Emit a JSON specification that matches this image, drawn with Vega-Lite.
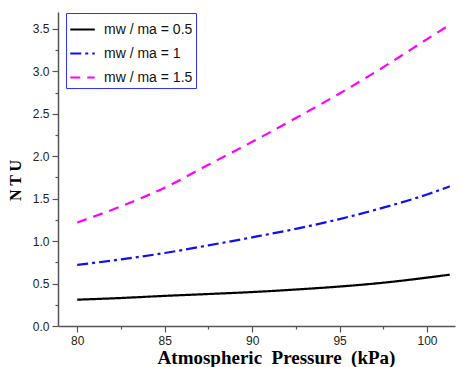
{
  "$schema": "https://vega.github.io/schema/vega-lite/v6.json",
  "width": 397,
  "height": 314,
  "autosize": "none",
  "padding": {"left": 58, "top": 12, "right": 5, "bottom": 41},
  "background": "white",
  "config": {"view": {"stroke": null}},
  "data": {"values": [
    {"p": 80, "ntu": 0.31, "s": "mw / ma = 0.5"},
    {"p": 82.5, "ntu": 0.33, "s": "mw / ma = 0.5"},
    {"p": 85, "ntu": 0.355, "s": "mw / ma = 0.5"},
    {"p": 87.5, "ntu": 0.377, "s": "mw / ma = 0.5"},
    {"p": 90, "ntu": 0.40, "s": "mw / ma = 0.5"},
    {"p": 92.5, "ntu": 0.43, "s": "mw / ma = 0.5"},
    {"p": 95, "ntu": 0.465, "s": "mw / ma = 0.5"},
    {"p": 97.5, "ntu": 0.51, "s": "mw / ma = 0.5"},
    {"p": 100, "ntu": 0.57, "s": "mw / ma = 0.5"},
    {"p": 101.3, "ntu": 0.605, "s": "mw / ma = 0.5"},
    {"p": 80, "ntu": 0.72, "s": "mw / ma = 1"},
    {"p": 82.5, "ntu": 0.785, "s": "mw / ma = 1"},
    {"p": 85, "ntu": 0.86, "s": "mw / ma = 1"},
    {"p": 87.5, "ntu": 0.95, "s": "mw / ma = 1"},
    {"p": 90, "ntu": 1.045, "s": "mw / ma = 1"},
    {"p": 92.5, "ntu": 1.145, "s": "mw / ma = 1"},
    {"p": 95, "ntu": 1.26, "s": "mw / ma = 1"},
    {"p": 97.5, "ntu": 1.395, "s": "mw / ma = 1"},
    {"p": 100, "ntu": 1.55, "s": "mw / ma = 1"},
    {"p": 101.3, "ntu": 1.645, "s": "mw / ma = 1"},
    {"p": 80, "ntu": 1.22, "s": "mw / ma = 1.5"},
    {"p": 82.5, "ntu": 1.41, "s": "mw / ma = 1.5"},
    {"p": 85, "ntu": 1.63, "s": "mw / ma = 1.5"},
    {"p": 87.5, "ntu": 1.90, "s": "mw / ma = 1.5"},
    {"p": 90, "ntu": 2.17, "s": "mw / ma = 1.5"},
    {"p": 92.5, "ntu": 2.45, "s": "mw / ma = 1.5"},
    {"p": 95, "ntu": 2.74, "s": "mw / ma = 1.5"},
    {"p": 97.5, "ntu": 3.05, "s": "mw / ma = 1.5"},
    {"p": 100, "ntu": 3.38, "s": "mw / ma = 1.5"},
    {"p": 101.3, "ntu": 3.55, "s": "mw / ma = 1.5"}
  ]},
  "mark": {"type": "line", "strokeWidth": 2.2, "interpolate": "monotone", "clip": true},
  "encoding": {
    "x": {
      "field": "p", "type": "quantitative",
      "scale": {"domain": [78.9, 101.6], "nice": false, "zero": false},
      "axis": {
        "values": [80, 82.5, 85, 87.5, 90, 92.5, 95, 97.5, 100],
        "labelExpr": "datum.value % 5 === 0 ? datum.label : ''",
        "format": "d",
        "grid": false,
        "domainColor": "#555555", "domainWidth": 1.5,
        "tickColor": "#555555", "tickWidth": 1.2,
        "tickSize": {"condition": {"test": "datum.value % 5 === 0", "value": 6}, "value": 3},
        "labelFont": "Liberation Sans", "labelFontSize": 12, "labelColor": "#222222", "labelPadding": 3,
        "title": "Atmospheric\u2002Pressure\u2002(kPa)",
        "titleFont": "Liberation Serif", "titleFontSize": 19, "titleFontWeight": "bold", "titleColor": "black",
        "titlePadding": 2, "titleX": 218
      }
    },
    "y": {
      "field": "ntu", "type": "quantitative",
      "scale": {"domain": [0, 3.7], "nice": false},
      "axis": {
        "values": [0, 0.25, 0.5, 0.75, 1, 1.25, 1.5, 1.75, 2, 2.25, 2.5, 2.75, 3, 3.25, 3.5],
        "labelExpr": "(datum.value * 2) % 1 === 0 ? format(datum.value, '.1f') : ''",
        "grid": false,
        "domainColor": "#555555", "domainWidth": 1.5,
        "tickColor": "#555555", "tickWidth": 1.2,
        "tickSize": {"condition": {"test": "(datum.value * 2) % 1 === 0", "value": 6}, "value": 3},
        "labelFont": "Liberation Sans", "labelFontSize": 12, "labelColor": "#222222", "labelPadding": 3,
        "title": "N T U",
        "titleFont": "Liberation Serif", "titleFontSize": 16, "titleFontWeight": "bold", "titleColor": "black",
        "titleX": -35, "titleY": 168
      }
    },
    "color": {
      "field": "s", "type": "nominal",
      "scale": {"domain": ["mw / ma = 0.5", "mw / ma = 1", "mw / ma = 1.5"], "range": ["black", "#1010ee", "#ff00ff"]},
      "legend": {
        "title": null,
        "orient": "none", "legendX": 8, "legendY": 1,
        "strokeColor": "#3030ff", "fillColor": "white",
        "padding": 3,
        "symbolType": "stroke", "symbolSize": 600, "symbolStrokeWidth": 2.2,
        "labelFont": "Liberation Sans", "labelFontSize": 14, "labelColor": "#111111",
        "rowPadding": 3, "labelOffset": 8,
        "encode": {"symbols": {"update": {"strokeDash": {"signal": "datum.value === 'mw / ma = 1' ? [11,4,3,4] : datum.value === 'mw / ma = 1.5' ? [10,7] : [1,0]"}}}}
      }
    },
    "strokeDash": {
      "field": "s", "type": "nominal",
      "scale": {"domain": ["mw / ma = 0.5", "mw / ma = 1", "mw / ma = 1.5"], "range": [[1, 0], [11, 4, 3, 4], [10, 7]]},
      "legend": null
    }
  }
}
